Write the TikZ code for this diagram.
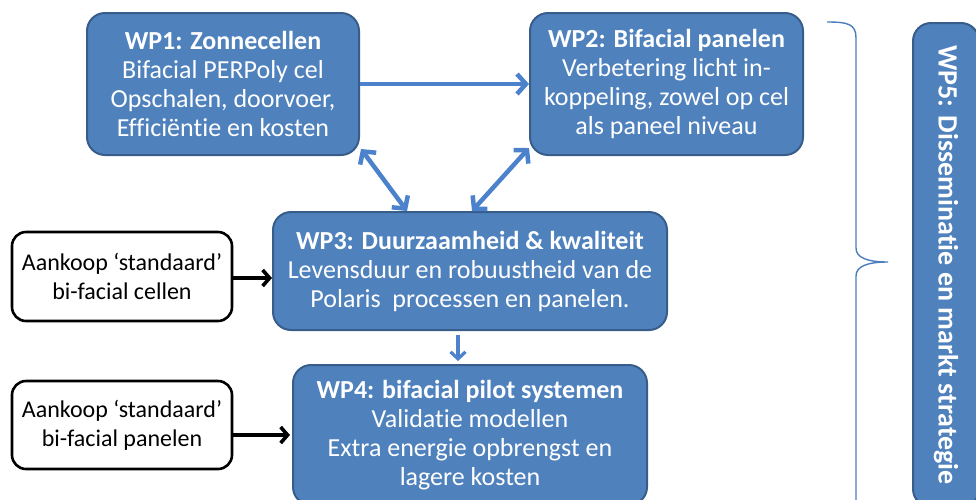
\documentclass[tikz,border=0pt]{standalone}
\usepackage{fontspec}
\setmainfont{Carlito}[Ligatures=NoCommon]
\usetikzlibrary{arrows.meta,calc}
\definecolor{wpfill}{RGB}{79,129,189}
\definecolor{wpdraw}{RGB}{56,93,138}
\definecolor{arrowblue}{RGB}{76,130,204}
\definecolor{bracecol}{RGB}{74,126,187}
\begin{document}
\begin{tikzpicture}[x=1pt,y=-1pt,
  wp/.style={draw=wpdraw, line width=2pt, fill=wpfill, rounded corners=18pt,
    text=white, align=center, inner sep=0pt, font=\fontsize{26}{29}\selectfont},
  buy/.style={draw=black, line width=2.6pt, fill=white, rounded corners=14pt,
    align=center, inner sep=0pt, minimum width=220pt, font=\fontsize{24}{29}\selectfont},
  bluetip/.tip={Straight Barb[length=9pt,width=20pt,line width=4.5pt]},
  bluearrow/.style={draw=arrowblue, line width=4.5pt, -bluetip},
  bluedouble/.style={draw=arrowblue, line width=4.5pt, bluetip-bluetip},
  blackarrow/.style={draw=black, line width=3.6pt, -{Straight Barb[length=7pt,width=16pt]}},
]
\path[use as bounding box] (0,0) rectangle (976,499);
\clip (0,0) rectangle (976,499);

\node[wp, minimum width=272pt, minimum height=142pt] (wp1) at (223,84)
  {\textbf{WP1: Zonnecellen}\\Bifacial PERPoly cel\\Opschalen, doorvoer,\\Efficiëntie en kosten};
\node[wp, minimum width=273pt, minimum height=142pt] (wp2) at (666.5,84)
  {\textbf{WP2: Bifacial panelen}\\Verbetering licht in-\\koppeling, zowel op cel\\als paneel niveau};
\node[wp, minimum width=394pt, minimum height=118pt] (wp3) at (470,271)
  {\textbf{WP3: Duurzaamheid \& kwaliteit}\\Levensduur en robuustheid van de\\Polaris\ \ processen en panelen.};
\node[wp, minimum width=354pt, minimum height=140pt] (wp4) at (470,435)
  {\textbf{WP4: bifacial pilot systemen}\\Validatie modellen\\Extra energie opbrengst en\\lagere kosten};
\node[buy, minimum height=89pt] (cellen) at (122,276.5)
  {Aankoop ‘standaard’\\bi-facial cellen};
\node[buy, minimum height=88pt] (panelen) at (122,425)
  {Aankoop ‘standaard’\\bi-facial panelen};
\node[wp, minimum width=484pt, minimum height=66pt, rotate=-90,
  font=\fontsize{28}{29}\selectfont\bfseries] (wp5) at (946,265)
  {WP5: Disseminatie en markt strategie};

\draw[bluearrow] (wp1.east |- 0,84) -- (wp2.west |- 0,84);
\draw[bluedouble] ($(wp1.south east)+(1,-7)$) -- ($(wp3.north west)+(135,0)$);
\draw[bluedouble] ($(wp3.north west)+(200,0)$) -- ($(wp2.south west)+(0,-8)$);
\draw[draw=arrowblue, line width=3.2pt, -{Straight Barb[length=7pt,width=15pt]}]
  ($(wp3.south)+(-12,4)$) -- ($(wp4.north)+(-12,-3)$);
\draw[blackarrow] (cellen.east |- 0,278) -- (wp3.west |- 0,278);
\draw[blackarrow] (panelen.east |- 0,435) -- ($(wp4.west |- 0,435)+(-2,0)$);

\draw[draw=bracecol, line width=1.4pt]
  (827,22) .. controls (848,22) and (856,24) .. (856,38) -- (856,248)
  .. controls (856,258) and (868,262) .. (888,262)
  .. controls (868,262) and (856,266) .. (856,276) -- (856,520);
\end{tikzpicture}
\end{document}
